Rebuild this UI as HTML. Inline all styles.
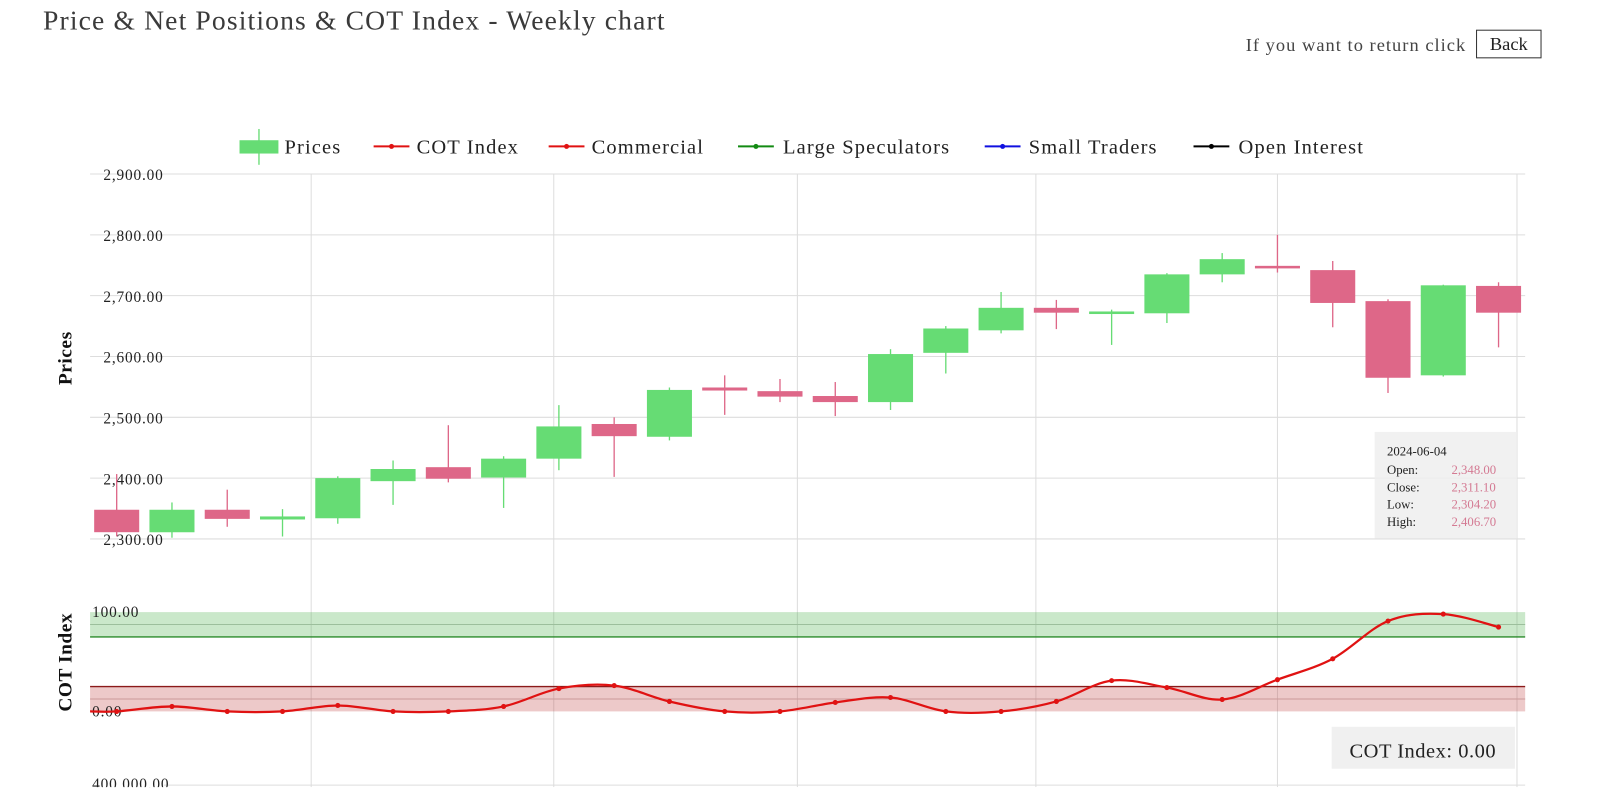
<!DOCTYPE html>
<html><head><meta charset="utf-8">
<style>
html,body{margin:0;padding:0;background:#fff;overflow:hidden;width:1605px;height:788px;}
#wrap{position:absolute;left:0;top:0;width:1568px;height:769px;transform:scale(1.0236);transform-origin:0 0;font-family:"Liberation Serif","DejaVu Serif",serif;}
.abs{position:absolute;white-space:nowrap;}
</style></head><body>
<div id="wrap">
<div class="abs" style="left:42px;top:5px;font-size:27px;color:#3a3a3a;letter-spacing:1.1px;">Price &amp; Net Positions &amp; COT Index - Weekly chart</div>
<div class="abs" style="left:1217px;top:34px;font-size:18px;color:#444;letter-spacing:1px;">If you want to return click</div>
<div class="abs" style="left:1442px;top:29px;width:64px;height:28px;border:1px solid #333;box-sizing:border-box;font-size:18px;text-align:center;line-height:27px;color:#222;cursor:pointer;">Back</div>
<svg id="chart" width="1568" height="769" style="position:absolute;left:0;top:0;" font-family="Liberation Serif, DejaVu Serif, serif"></svg>
</div>
<script>
const dates=["2024-06-04"];
const openP =[2348,2311,2348,2332,2334,2395,2418,2401,2432,2489,2468,2549,2543,2535,2525,2606,2643,2680,2670,2671,2735,2749,2742,2691,2569,2716];
const closeP=[2311.1,2348,2333,2337,2400,2415,2399,2432,2485,2469,2545,2544,2534,2525,2604,2646,2680,2672,2674,2735,2760,2745,2688,2565,2717,2672];
const lowP  =[2304.2,2302,2320,2304,2325,2356,2393,2351,2413,2402,2462,2504,2525,2502,2512,2572,2638,2645,2619,2655,2722,2738,2648,2540,2567,2615];
const highP =[2406.7,2360,2381,2349,2403,2429,2487,2436,2520,2500,2549,2569,2563,2558,2612,2650,2706,2693,2677,2737,2770,2800,2757,2694,2718,2722];
const cotVals=[0,5,0,0,6,0,0,5,23,26,10,0,0,9,14,0,0,10,31,24,12,32,53,91,98,85];
const priceTicks=[2900,2800,2700,2600,2500,2400,2300];
const cotTicks=[100,0];

const svg=document.getElementById('chart');
const NS='http://www.w3.org/2000/svg';
function mk(t,a,p){const e=document.createElementNS(NS,t);for(const k in a)e.setAttribute(k,a[k]);(p||svg).appendChild(e);return e;}
const L=88,R=1490;
const xS=i=>114+i*54;
const yP=v=>170+(2900-v)*0.5942;
const yC=v=>695-v*0.97;
const fmt=v=>v.toLocaleString('en-US',{minimumFractionDigits:2,maximumFractionDigits:2});

[304,541,779,1012,1248,1482].forEach(x=>{const l=mk('line',{x1:x,x2:x,y1:170,y2:769,stroke:'#ddd','stroke-width':1});
});
priceTicks.forEach(v=>{const y=yP(v);
const l=mk('line',{x1:L,x2:R,y1:y,y2:y,stroke:'#ddd'});

const t=mk('text',{x:101,y:y+6,'font-size':15,fill:'#222','letter-spacing':0.8});t.textContent=fmt(v);
});
let at=mk('text',{x:0,y:0,'font-size':19,'font-weight':'bold',fill:'#111','text-anchor':'middle','letter-spacing':0.5,transform:'translate(70,350) rotate(-90)'});at.textContent='Prices';

at=mk('text',{x:0,y:0,'font-size':19,'font-weight':'bold',fill:'#111','text-anchor':'middle','letter-spacing':0.5,transform:'translate(70,647) rotate(-90)'});at.textContent='COT Index';


openP.forEach((o,i)=>{const c=closeP[i],up=c>=o,col=up?'#66dc74':'#de6788',x=xS(i);
const g=mk('g',{});
mk('line',{x1:x,x2:x,y1:yP(highP[i]),y2:yP(lowP[i]),stroke:col,'stroke-width':1.3},g);
const top=yP(Math.max(o,c)),h=Math.max(2.5,yP(Math.min(o,c))-top);
mk('rect',{x:x-22,y:top,width:44,height:h,fill:col},g);});

function band(v1,v2,fill,name){const r=mk('rect',{x:L,y:yC(v1),width:R-L,height:yC(v2)-yC(v1),fill:fill});}
band(100,75,'rgba(80,180,80,0.3)','overbought-band');band(25,0,'rgba(190,60,60,0.28)','oversold-band');
[[87.5,'#9cbf9c',1],[75,'#2a8a2a',1.3],[25,'#8b1a1a',1.3],[12.5,'#c99',1]].forEach(a=>{const l=mk('line',{x1:L,x2:R,y1:yC(a[0]),y2:yC(a[0]),stroke:a[1],'stroke-width':a[2]});
});
cotTicks.forEach(v=>{const t=mk('text',{x:90,y:yC(v)+5,'font-size':15,fill:'#222','letter-spacing':0.8});t.textContent=fmt(v);
});
const pts=[[L,yC(0)]].concat(cotVals.map((v,i)=>[xS(i),yC(v)]));
let d='M'+pts[0][0]+','+pts[0][1];
for(let i=0;i<pts.length-1;i++){const p0=pts[Math.max(0,i-1)],p1=pts[i],p2=pts[i+1],p3=pts[Math.min(pts.length-1,i+2)];
d+=` C${p1[0]+(p2[0]-p0[0])/6},${p1[1]+(p2[1]-p0[1])/6} ${p2[0]-(p3[0]-p1[0])/6},${p2[1]-(p3[1]-p1[1])/6} ${p2[0]},${p2[1]}`;}
const cl=mk('path',{d:d,fill:'none',stroke:'#e01212','stroke-width':2.2});

cotVals.forEach((v,i)=>{const c=mk('circle',{cx:xS(i),cy:yC(v),r:2.5,fill:'#e01212'});
});

let bl=mk('line',{x1:160,x2:R,y1:767,y2:767,stroke:'#ddd'});
let bt=mk('text',{x:90,y:771,'font-size':15,fill:'#222','letter-spacing':0.8});bt.textContent='400,000.00';

const legItems=[['Prices',234,278,'candle'],['COT Index',365,407,'#e01212'],['Commercial',536,578,'#e01212'],['Large Speculators',721,765,'#138a13'],['Small Traders',962,1005,'#1010e0'],['Open Interest',1166,1210,'#000']];
legItems.forEach(it=>{const g=mk('g',{});
if(it[3]==='candle'){mk('line',{x1:253,x2:253,y1:126,y2:161,stroke:'#66dc74','stroke-width':1.3},g);mk('rect',{x:234,y:137,width:38,height:13,fill:'#66dc74'},g);}
else{mk('line',{x1:it[1],x2:it[1]+35,y1:143,y2:143,stroke:it[3],'stroke-width':2},g);mk('circle',{cx:it[1]+17.5,cy:143,r:2.5,fill:it[3]},g);}
const t=mk('text',{x:it[2],y:150,'font-size':20,fill:'#222','letter-spacing':1.1},g);t.textContent=it[0];});

const tg=mk('g',{});
mk('rect',{x:1343,y:422,width:139,height:104,fill:'rgba(238,238,238,0.85)'},tg);
let tt=mk('text',{x:1355,y:445,'font-size':12.5,fill:'#222'},tg);tt.textContent=dates[0];
[['Open:',openP[0]],['Close:',closeP[0]],['Low:',lowP[0]],['High:',highP[0]]].forEach((r,k)=>{
const a=mk('text',{x:1355,y:463+k*17,'font-size':12.5,fill:'#222'},tg);a.textContent=r[0];
const b=mk('text',{x:1418,y:463+k*17,'font-size':12.5,fill:'#d47a93'},tg);b.textContent=fmt(r[1]);});

const cg=mk('g',{});
mk('rect',{x:1301,y:710,width:179,height:41,fill:'#f0f0f0'},cg);
const ct=mk('text',{x:1390,y:740,'font-size':20,fill:'#222','text-anchor':'middle','letter-spacing':0.5},cg);ct.textContent='COT Index: '+fmt(cotVals[0]);
</script>
</body></html>
